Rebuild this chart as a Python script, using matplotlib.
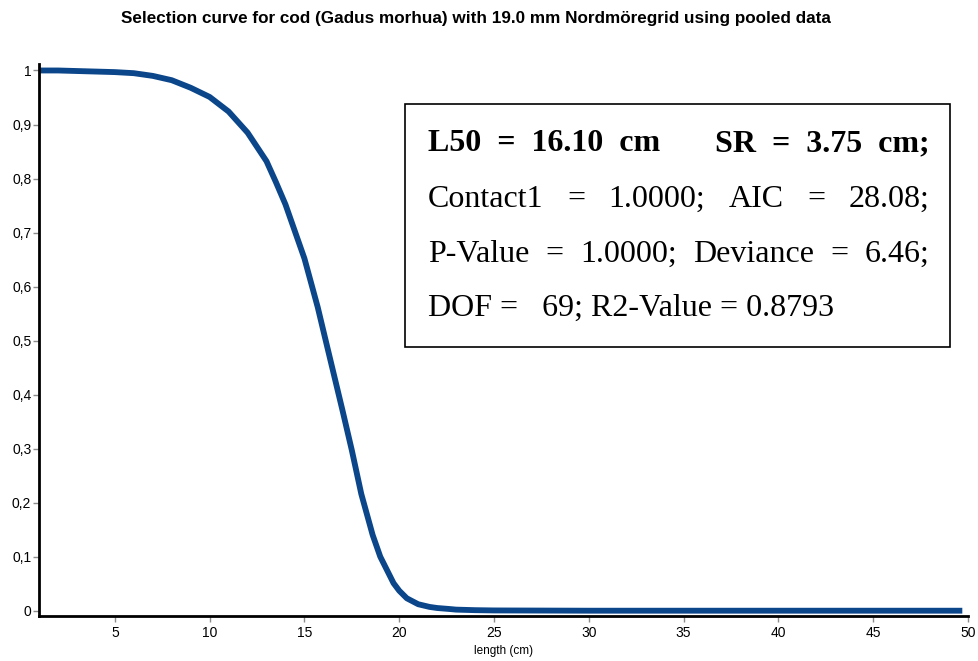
"""
plot.py  -  selection curve for cod with Nordmöregrid (pooled data)
"""

import matplotlib
matplotlib.use("Agg")
import matplotlib.pyplot as plt

# ---------- data ------------------------------------------------------------

lengths = [1, 2, 3, 4, 5, 6, 7, 8, 9, 10, 11, 12, 13, 13.5, 14, 15, 15.7,
           16, 17, 17.5, 18, 18.6, 19, 19.7, 20, 20.4, 21, 21.6, 22, 22.7,
           23, 24, 25, 30, 35, 40, 45, 49.7]
retention = [1.000, 1.000, 0.999, 0.998, 0.997, 0.995, 0.990, 0.982, 0.968,
             0.951, 0.924, 0.885, 0.832, 0.793, 0.752, 0.652, 0.562,
             0.518, 0.372, 0.297, 0.216, 0.140, 0.100, 0.051, 0.037,
             0.023, 0.012, 0.007, 0.005, 0.003, 0.002, 0.001, 0.0005,
             0.0, 0.0, 0.0, 0.0, 0.0]

x_ticks = [5, 10, 15, 20, 25, 30, 35, 40, 45, 50]
y_ticks = [0, 0.1, 0.2, 0.3, 0.4, 0.5, 0.6, 0.7, 0.8, 0.9, 1.0]
y_tick_labels = ["0", "0,1", "0,2", "0,3", "0,4", "0,5",
                 "0,6", "0,7", "0,8", "0,9", "1"]

title = "Selection curve for cod (Gadus morhua) with 19.0 mm Nordmöregrid using pooled data"
box_lines = [
    ["L50  =  16.10  cm", "SR  =  3.75  cm;"],
    ["Contact1", "=", "1.0000;", "AIC", "=", "28.08;"],
    ["P-Value", "=", "1.0000;", "Deviance", "=", "6.46;"],
]
last_line = "DOF =   69; R2-Value = 0.8793"

# ---------- figure -----------------------------------------------------------

W, H = 979, 661
fig = plt.figure(figsize=(W / 100, H / 100), dpi=100)
ax = fig.add_axes([39 / W, 1 - 616 / H, (968 - 39) / W, (616 - 64) / H])

ax.plot(lengths, retention, color="#0b468a", lw=4.2, solid_capstyle="butt",
        solid_joinstyle="round")

ax.set_xlim(1, 50)
ax.set_ylim(-0.0098, 1.012)
ax.set_xticks(x_ticks)
ax.set_yticks(y_ticks)
ax.set_yticklabels(y_tick_labels)

for side in ("top", "right"):
    ax.spines[side].set_visible(False)
for side in ("left", "bottom"):
    ax.spines[side].set_linewidth(2.0)
    ax.spines[side].set_color("black")

ax.tick_params(direction="out", length=4, width=1, color="#8c8c8c",
               labelsize=10, pad=1.5)
ax.tick_params(axis="x", pad=3)
for lbl in ax.get_xticklabels() + ax.get_yticklabels():
    lbl.set_fontfamily("Liberation Sans")

ax.set_xlabel("length (cm)", fontsize=8.5, family="Liberation Sans", labelpad=4)

fig.text(476 / W, 1 - 18 / H, title, ha="center", va="center",
         fontsize=12.3, fontweight="bold", family="Liberation Sans")

# ---------- text box ---------------------------------------------------------

def px(x, y):
    """figure pixel (top-left origin) -> figure fraction"""
    return x / W, 1 - y / H


fig.patches.append(plt.Rectangle(px(405, 347), 545 / W, 243 / H,
                                 transform=fig.transFigure, fill=False,
                                 edgecolor="black", lw=1.2))

x_left, x_right = 428, 930
baselines = [151, 207, 262, 316]
renderer = fig.canvas.get_renderer()

for i, words in enumerate(box_lines):
    kw = dict(fontsize=23, family="Liberation Serif", va="baseline")
    if i == 0:
        kw["fontweight"] = "bold"
    texts = [fig.text(0, 0, w, **kw) for w in words]
    widths = [t.get_window_extent(renderer).width for t in texts]
    gap = (x_right - x_left - sum(widths)) / (len(words) - 1)
    xpos = x_left
    for t, w in zip(texts, widths):
        t.set_position(px(xpos, baselines[i]))
        xpos += w + gap

fig.text(*px(x_left, baselines[3]), last_line, fontsize=23,
         family="Liberation Serif", va="baseline")

fig.savefig("out.png", dpi=100)
